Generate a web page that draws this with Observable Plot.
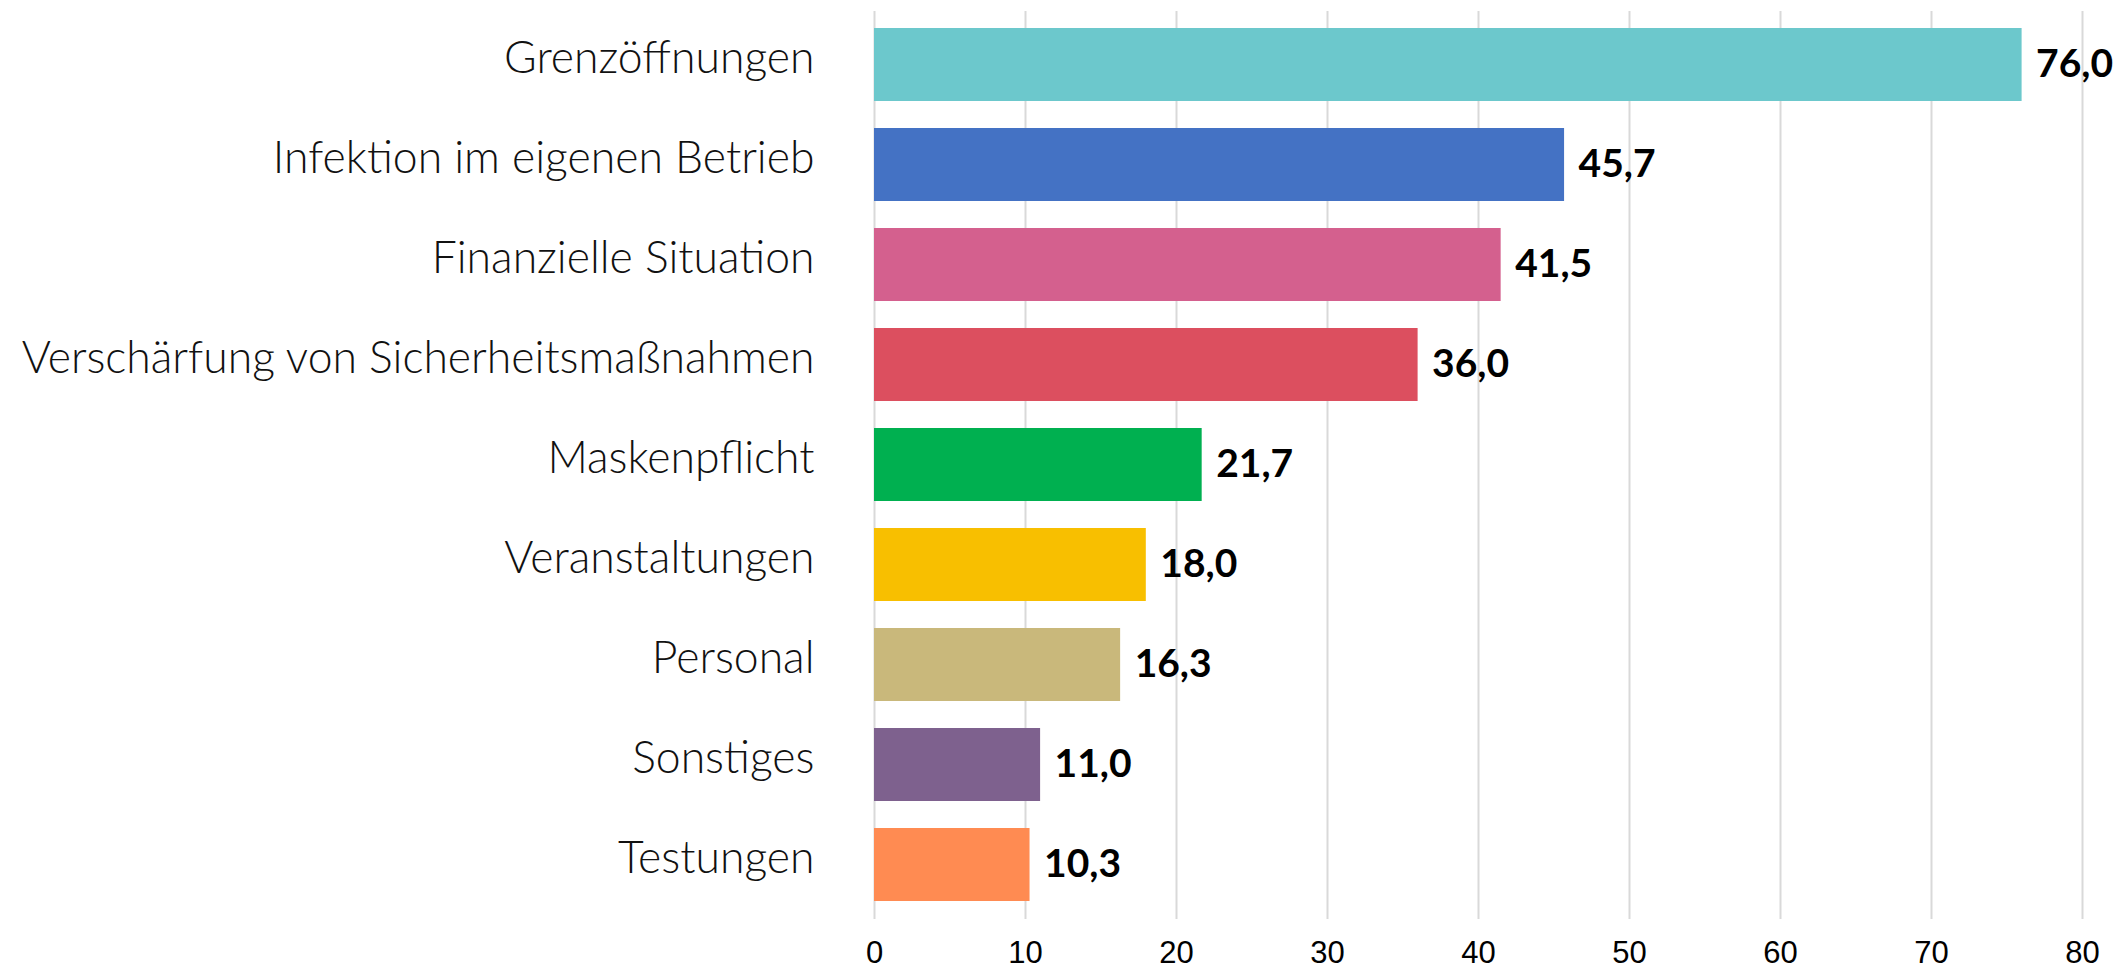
<!DOCTYPE html>
<html>
<head>
<meta charset="utf-8">
<script src="https://cdn.jsdelivr.net/npm/d3@7"></script>
<script src="https://cdn.jsdelivr.net/npm/@observablehq/plot@0.6"></script>
<style>
  html, body { margin: 0; padding: 0; background: #fff; }
  #chart svg { display: block; }
</style>
</head>
<body>
<div id="chart"></div>
<script>
const categories = [
  "Grenzöffnungen",
  "Infektion im eigenen Betrieb",
  "Finanzielle Situation",
  "Verschärfung von Sicherheitsmaßnahmen",
  "Maskenpflicht",
  "Veranstaltungen",
  "Personal",
  "Sonstiges",
  "Testungen"
];
const values = [76.0, 45.7, 41.5, 36.0, 21.7, 18.0, 16.3, 11.0, 10.3];
const colors = ["#6CC8CC", "#4472C4", "#D4608E", "#DC4F5F", "#00B050", "#F8BF00", "#C9B87B", "#7E618E", "#FF8B52"];
const xTicks = [0, 10, 20, 30, 40, 50, 60, 70, 80];

const data = categories.map((c, i) => ({category: c, value: values[i], color: colors[i]}));
const fmt = v => v.toFixed(1).replace(".", ",");

const chart = Plot.plot({
  width: 2121,
  height: 971,
  marginLeft: 874,
  marginRight: 39,
  marginTop: 11,
  marginBottom: 52,
  style: {background: "#fff", color: "#000"},
  x: {domain: [0, 80], label: null},
  y: {domain: categories, paddingInner: 0.266, paddingOuter: 0.134, label: null},
  marks: [
    Plot.gridX(xTicks, {stroke: "#d9d9d9", strokeOpacity: 1, strokeWidth: 2}),
    Plot.barX(data, {y: "category", x: "value", fill: "color"}),
    Plot.text(data, {
      y: "category", x: "value", text: d => fmt(d.value),
      textAnchor: "start", dx: 14, dy: 0,
      fontFamily: "Lato", fontWeight: 700, fontSize: 39, fill: "#000"
    }),
    Plot.axisX(xTicks, {
      tickSize: 0, tickPadding: 21, label: null, tickFormat: d => String(d),
      fontFamily: "Liberation Sans", fontSize: 31, fill: "#000"
    }),
    Plot.axisY({
      tickSize: 0, tickPadding: 60, label: null, dy: -6,
      fontFamily: "Lato", fontWeight: 300, fontSize: 44.5, fill: "#111"
    })
  ]
});
document.getElementById("chart").appendChild(chart);
</script>
</body>
</html>
